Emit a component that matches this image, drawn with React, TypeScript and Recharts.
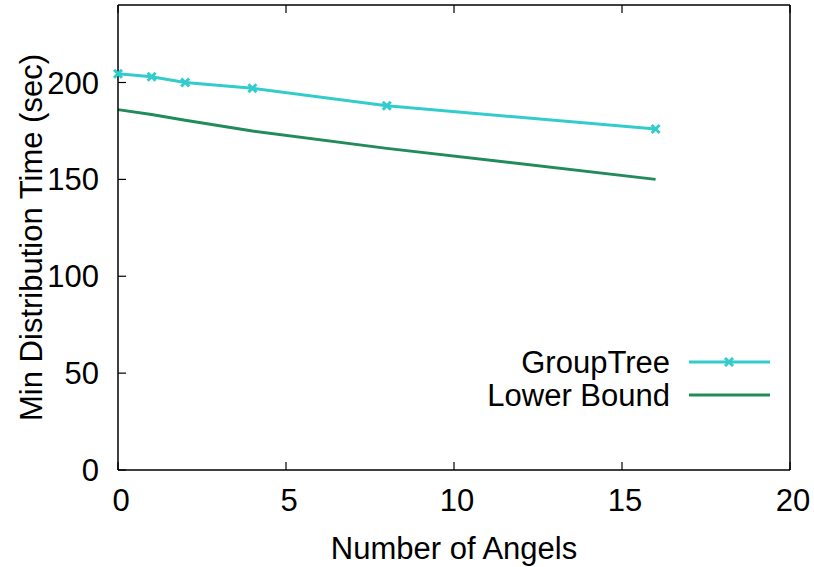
import React from "react";
import { LineChart, Line, XAxis, YAxis } from "recharts";

const angels = [0, 1, 2, 4, 8, 16];
const groupTree = [204.5, 203, 200, 197, 188, 176];
const lowerBound = [186, 183.5, 180.5, 175, 166, 150];
const xTicks = [0, 5, 10, 15, 20];
const yTicks = [0, 50, 100, 150, 200];

const CYAN = "#33cccc";
const GREEN = "#228b5b";
const FONT = "'Liberation Sans', Arial, Helvetica, sans-serif";
const FS = 31;

const data = angels.map((a, i) => ({ angels: a, groupTree: groupTree[i], lowerBound: lowerBound[i] }));

function Cross(props: any) {
  const { cx, cy } = props;
  if (cx == null || cy == null) return null;
  const s = 4;
  return (
    <g stroke={CYAN} strokeWidth={3}>
      <line x1={cx - s} y1={cy - s} x2={cx + s} y2={cy + s} />
      <line x1={cx - s} y1={cy + s} x2={cx + s} y2={cy - s} />
    </g>
  );
}

// gnuplot-style inward ticks
const bottomTick = (p: any) => (
  <g>
    <line x1={p.x} y1={p.y} x2={p.x} y2={p.y - 8} stroke="#000" strokeWidth={1.2} />
    <text x={p.x + 3} y={p.y + 41} textAnchor="middle" fontSize={FS} fontFamily={FONT} fill="#000">
      {p.payload.value}
    </text>
  </g>
);
const topTick = (p: any) => (
  <line x1={p.x} y1={p.y} x2={p.x} y2={p.y + 8} stroke="#000" strokeWidth={1.2} />
);
const leftTick = (p: any) => (
  <g>
    <line x1={p.x} y1={p.y} x2={p.x + 8} y2={p.y} stroke="#000" strokeWidth={1.2} />
    <text x={p.x - 19} y={p.y + 11} textAnchor="end" fontSize={FS} fontFamily={FONT} fill="#000">
      {p.payload.value}
    </text>
  </g>
);
const rightTick = (p: any) => (
  <line x1={p.x} y1={p.y} x2={p.x - 8} y2={p.y} stroke="#000" strokeWidth={1.2} />
);

function LegendBox() {
  return (
    <svg width={300} height={80} style={{ display: "block" }}>
      <g fontFamily={FONT} fontSize={FS} fill="#000">
        <text x={190} y={33} textAnchor="end">GroupTree</text>
        <text x={190} y={66} textAnchor="end">Lower Bound</text>
      </g>
      <line x1={209} y1={22} x2={290} y2={22} stroke={CYAN} strokeWidth={3} />
      <Cross cx={249} cy={22} />
      <line x1={209} y1={55} x2={290} y2={55} stroke={GREEN} strokeWidth={3} />
    </svg>
  );
}

export default function App() {
  return (
    <div style={{ position: "absolute", left: 0, top: 0, width: 814, height: 567, background: "#fff" }}>
      <LineChart width={814} height={567} data={data} margin={{ top: 4, right: 23, bottom: 0, left: 0 }}>
        <XAxis
          dataKey="angels"
          type="number"
          domain={[0, 20]}
          ticks={xTicks}
          height={97}
          tickLine={false}
          tickSize={0}
          tickMargin={0}
          tick={bottomTick}
          axisLine={{ stroke: "#000", strokeWidth: 1.5 }}
          label={(props: any) => {
            const vb = props.viewBox;
            return (
              <text x={vb.x + vb.width / 2} y={559} textAnchor="middle" fontSize={FS} fontFamily={FONT} fill="#000">
                Number of Angels
              </text>
            );
          }}
        />
        <XAxis
          xAxisId="top"
          orientation="top"
          dataKey="angels"
          type="number"
          domain={[0, 20]}
          ticks={xTicks}
          height={1}
          tickLine={false}
          tickSize={0}
          tickMargin={0}
          tick={topTick}
          axisLine={{ stroke: "#000", strokeWidth: 1.5 }}
        />
        <YAxis
          type="number"
          domain={[0, 240]}
          ticks={yTicks}
          width={118}
          tickLine={false}
          tickSize={0}
          tickMargin={0}
          tick={leftTick}
          axisLine={{ stroke: "#000", strokeWidth: 1.5 }}
          label={(props: any) => {
            const vb = props.viewBox;
            const cx = 31;
            const cy = vb.y + vb.height / 2;
            return (
              <text x={cx} y={cy} transform={`rotate(-90 ${cx} ${cy})`} textAnchor="middle" dominantBaseline="central" fontSize={FS} fontFamily={FONT} fill="#000">
                Min Distribution Time (sec)
              </text>
            );
          }}
        />
        <YAxis
          yAxisId="right"
          orientation="right"
          type="number"
          domain={[0, 240]}
          ticks={yTicks}
          width={1}
          tickLine={false}
          tickSize={0}
          tickMargin={0}
          tick={rightTick}
          axisLine={{ stroke: "#000", strokeWidth: 1.5 }}
        />
        <Line
          dataKey="lowerBound"
          name="Lower Bound"
          stroke={GREEN}
          strokeWidth={3}
          dot={false}
          activeDot={false}
          isAnimationActive={false}
        />
        <Line
          dataKey="groupTree"
          name="GroupTree"
          stroke={CYAN}
          strokeWidth={3}
          dot={<Cross />}
          activeDot={false}
          isAnimationActive={false}
        />
      </LineChart>
      <div style={{ position: "absolute", left: 480, top: 340 }}>
        <LegendBox />
      </div>
    </div>
  );
}
